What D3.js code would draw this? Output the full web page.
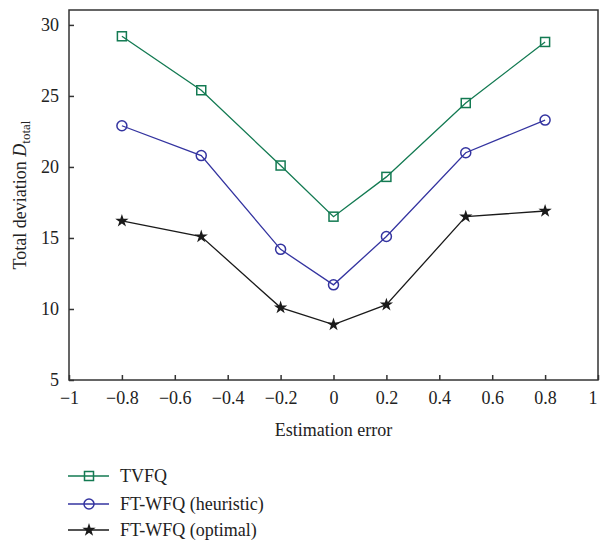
<!DOCTYPE html>
<html><head><meta charset="utf-8">
<script src="https://cdn.jsdelivr.net/npm/d3@7/dist/d3.min.js"></script>
<style>body{margin:0;background:#fff} svg, svg text{font-family:'Liberation Serif','DejaVu Serif',serif !important;}</style>
</head><body><svg id="c" width="600" height="543"></svg>
<script>
const xValues = [-0.8, -0.5, -0.2, 0, 0.2, 0.5, 0.8];
const tvfq = [29.2, 25.4, 20.1, 16.5, 19.3, 24.5, 28.8];
const heuristic = [22.9, 20.8, 14.2, 11.7, 15.1, 21.0, 23.3];
const optimal = [16.2, 15.1, 10.1, 8.9, 10.3, 16.5, 16.9];
const xTicks = [-1, -0.8, -0.6, -0.4, -0.2, 0, 0.2, 0.4, 0.6, 0.8, 1];
const yTicks = [5, 10, 15, 20, 25, 30];
const seriesNames = ["TVFQ", "FT-WFQ (heuristic)", "FT-WFQ (optimal)"];

const FONT = "'Liberation Serif', 'DejaVu Serif', serif";
const FS = 18;
const svg = d3.select("#c").attr("font-family", FONT);
const L = 69, R = 598, T = 10, B = 380;
const x = d3.scaleLinear().domain([-1, 1]).range([L, R]);
const y = d3.scaleLinear().domain([5, 31.05]).range([B, T]);
const axisCol = "#333";

svg.append("rect").attr("x", L).attr("y", T).attr("width", R - L).attr("height", B - T)
  .attr("fill", "none").attr("stroke", axisCol).attr("stroke-width", 1.5);

const fmt = v => (v < 0 ? "\u2212" : "") + String(Math.abs(v));
const xa = svg.append("g").attr("transform", `translate(0,${B})`)
  .call(d3.axisBottom(x).tickValues(xTicks).tickSizeInner(-5).tickSizeOuter(0).tickPadding(10).tickFormat(fmt));
const ya = svg.append("g").attr("transform", `translate(${L},0)`)
  .call(d3.axisLeft(y).tickValues(yTicks).tickSizeInner(-5).tickSizeOuter(0).tickPadding(10).tickFormat(d3.format("d")));
[xa, ya].forEach(a => {
  a.attr("font-family", FONT).attr("font-size", FS);
  a.select(".domain").remove();
  a.selectAll("line").attr("stroke", axisCol).attr("stroke-width", 1.5);
  a.selectAll("text").attr("fill", "#222");
});
xa.selectAll("text").attr("dy", "0.8em");
xa.selectAll(".tick").filter(d => d === 1).select("text").attr("text-anchor", "end").attr("dx", "-0.05em");

svg.append("text").attr("x", (L + R) / 2).attr("y", 436).attr("text-anchor", "middle")
  .attr("font-size", FS).attr("fill", "#222").text("Estimation error");
const yl = svg.append("text").attr("transform", `translate(20,${(T + B) / 2}) rotate(-90)`)
  .attr("text-anchor", "middle").attr("font-size", FS).attr("fill", "#222").attr("dy", "0.35em");
yl.append("tspan").text("Total deviation ");
yl.append("tspan").attr("font-style", "italic").text("D");
yl.append("tspan").attr("dy", 4).attr("font-size", 13).text("total");

const colors = ["#137a52", "#3434a0", "#1a1a1a"];
const data = [tvfq, heuristic, optimal];
const line = d3.line().x((d, i) => x(xValues[i])).y(d => y(d));
const star = d3.symbol().type(d3.symbolStar).size(55);

function marker(g, k, cx, cy) {
  if (k === 0) g.append("rect").attr("x", cx - 4.5).attr("y", cy - 4.5).attr("width", 9).attr("height", 9)
    .attr("fill", "none").attr("stroke", colors[0]).attr("stroke-width", 1.5);
  else if (k === 1) g.append("circle").attr("cx", cx).attr("cy", cy).attr("r", 5)
    .attr("fill", "none").attr("stroke", colors[1]).attr("stroke-width", 1.5);
  else g.append("path").attr("d", star()).attr("transform", `translate(${cx},${cy})`).attr("fill", colors[2]);
}

data.forEach((s, k) => {
  const g = svg.append("g");
  g.append("path").datum(s).attr("d", line).attr("fill", "none").attr("stroke", colors[k]).attr("stroke-width", 1.3);
  s.forEach((v, i) => marker(g, k, x(xValues[i]), y(v)));
});

const ly = [476, 504, 530];
seriesNames.forEach((n, k) => {
  const g = svg.append("g");
  g.append("line").attr("x1", 68).attr("x2", 109).attr("y1", ly[k]).attr("y2", ly[k]).attr("stroke", colors[k]).attr("stroke-width", 1.3);
  marker(g, k, 89, ly[k]);
  g.append("text").attr("x", 120).attr("y", ly[k]).attr("dy", "0.35em").attr("font-size", FS).attr("fill", "#222").text(n);
});
</script></body></html>
